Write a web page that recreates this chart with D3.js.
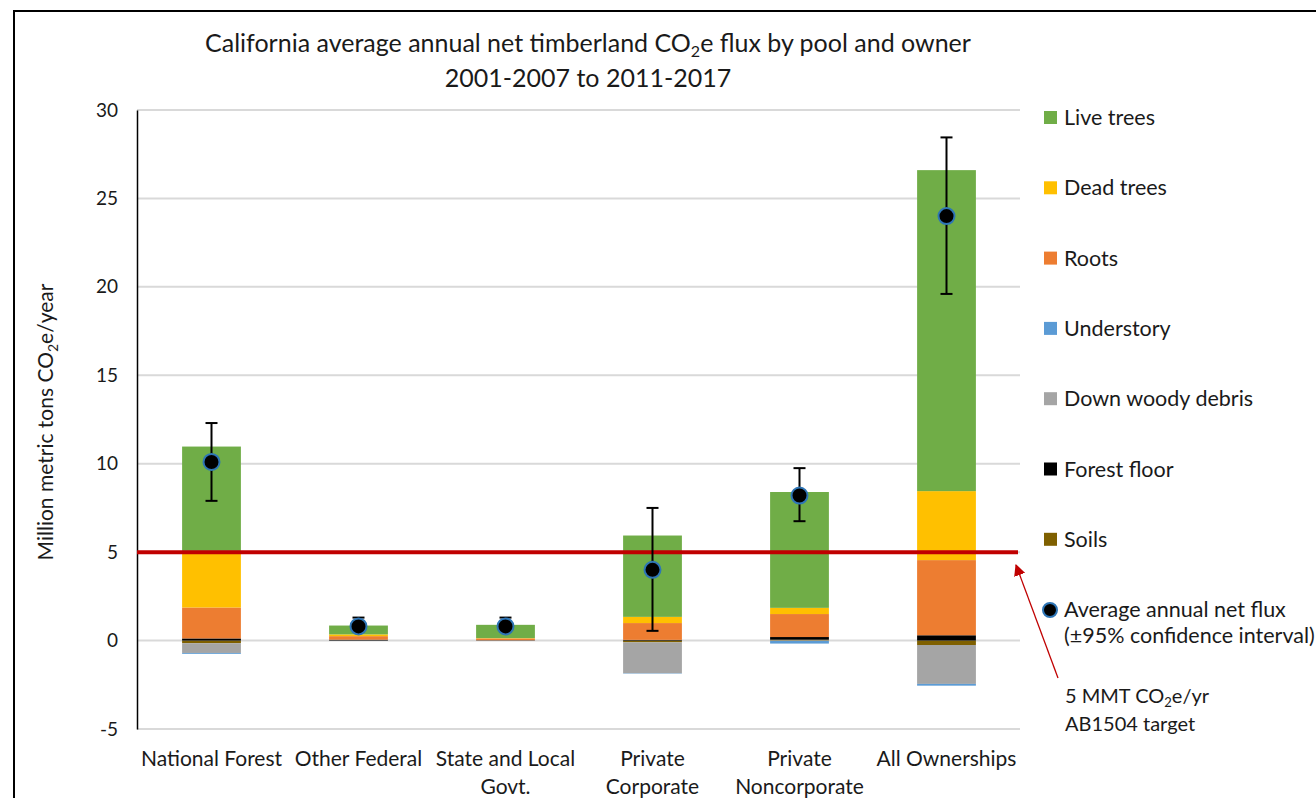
<!DOCTYPE html>
<html lang="en">
<head>
<meta charset="utf-8">
<title>California timberland CO2e flux</title>
<script src="https://cdn.jsdelivr.net/npm/d3@7/dist/d3.min.js"></script>
<style>
  body { margin: 0; background: #fff; }
  text { font-family: Lato, "Open Sans", sans-serif; fill: #1a1a1a; }
</style>
</head>
<body>
<svg width="1316" height="798"></svg>
<script>
// categories (owners)
var owners = ["National Forest", "Other Federal", "State and Local Govt.", "Private Corporate", "Private Noncorporate", "All Ownerships"];
var ownerLabels = [["National Forest"], ["Other Federal"], ["State and Local", "Govt."], ["Private", "Corporate"], ["Private", "Noncorporate"], ["All Ownerships"]];

// pool values, million metric tons CO2e/yr (stack order: first drawn nearest zero)
var soils       = [-0.15, 0,    0,    -0.10, 0.05,  -0.25];
var forestFloor = [0.12,  0.05, 0.02, 0.04,  0.15,  0.30];
var downWoody   = [-0.55, 0,    0,    -1.75, -0.02, -2.20];
var understory  = [-0.05, 0,    0,    -0.02, -0.15, -0.10];
var roots       = [1.75,  0.20, 0.10, 0.95,  1.30,  4.25];
var deadTrees   = [3.20,  0.10, 0.02, 0.35,  0.35,  3.90];
var liveTrees   = [5.90,  0.50, 0.75, 4.60,  6.55,  18.15];

// net flux and 95% CI
var netFlux = [10.1, 0.8, 0.8, 4.0, 8.2, 24.0];
var ciLow   = [7.9, 0.5, 0.5, 0.55, 6.75, 19.6];
var ciHigh  = [12.3, 1.3, 1.3, 7.5, 9.75, 28.45];

var target = 5;
var yTicks = [-5, 0, 5, 10, 15, 20, 25, 30];

var pools = [
  { key: "Soils", values: soils, color: "#7f6000" },
  { key: "Forest floor", values: forestFloor, color: "#000000" },
  { key: "Down woody debris", values: downWoody, color: "#a5a5a5" },
  { key: "Understory", values: understory, color: "#5b9bd5" },
  { key: "Roots", values: roots, color: "#ed7d31" },
  { key: "Dead trees", values: deadTrees, color: "#ffc000" },
  { key: "Live trees", values: liveTrees, color: "#70ad47" }
];

var table = owners.map(function(o, i) {
  var row = { owner: o };
  pools.forEach(function(p) { row[p.key] = p.values[i]; });
  return row;
});

var svg = d3.select("svg");

// chart frame (cropped)
svg.append("path").attr("d", "M14,798 V11 H1316").attr("fill", "none").attr("stroke", "#000").attr("stroke-width", 2);

var x = d3.scaleBand().domain(owners).range([138, 1020]).paddingInner(0.6).paddingOuter(0.3);
var y = d3.scaleLinear().domain([-5, 30]).range([729, 110]);

// title
var title = svg.append("text").attr("x", 588).attr("y", 52).attr("text-anchor", "middle").attr("font-size", "25px");
title.append("tspan").text("California average annual net timberland CO");
title.append("tspan").attr("font-size", "16px").attr("dy", 5).text("2");
title.append("tspan").attr("dy", -5).text("e flux by pool and owner");
svg.append("text").attr("x", 588).attr("y", 87).attr("text-anchor", "middle").attr("font-size", "25px").text("2001-2007 to 2011-2017");

// gridlines
svg.append("g").selectAll("line").data(yTicks).enter().append("line")
  .attr("x1", 137).attr("x2", 1020)
  .attr("y1", function(d) { return y(d); }).attr("y2", function(d) { return y(d); })
  .attr("stroke", "#d9d9d9").attr("stroke-width", 2);

// y axis
var yAxis = svg.append("g").attr("transform", "translate(137,0)")
  .call(d3.axisLeft(y).tickValues(yTicks).tickSize(0).tickPadding(19).tickFormat(function(d) { return String(d); }));
yAxis.select(".domain").attr("stroke", "#000").attr("stroke-width", 1.5);
yAxis.selectAll("text").attr("font-size", "19px").attr("font-family", "Lato, sans-serif").attr("fill", "#1a1a1a");

var yTitle = svg.append("text").attr("transform", "translate(53,422) rotate(-90)").attr("text-anchor", "middle").attr("font-size", "21px");
yTitle.append("tspan").text("Million metric tons CO");
yTitle.append("tspan").attr("font-size", "14px").attr("dy", 5).text("2");
yTitle.append("tspan").attr("dy", -5).text("e/year");

// stacked bars
var series = d3.stack().keys(pools.map(function(p) { return p.key; })).offset(d3.stackOffsetDiverging)(table);
var colorOf = {};
pools.forEach(function(p) { colorOf[p.key] = p.color; });

svg.append("g").selectAll("g").data(series).enter().append("g")
  .attr("fill", function(s) { return colorOf[s.key]; })
  .selectAll("rect").data(function(s) { return s; }).enter().append("rect")
  .attr("x", function(d) { return x(d.data.owner); })
  .attr("width", x.bandwidth())
  .attr("y", function(d) { return y(Math.max(d[0], d[1])); })
  .attr("height", function(d) { return Math.abs(y(d[0]) - y(d[1])); });

// target line
svg.append("line").attr("x1", 137).attr("x2", 1018).attr("y1", y(target)).attr("y2", y(target))
  .attr("stroke", "#c00000").attr("stroke-width", 4);

// error bars and net flux dots
var idx = d3.range(owners.length);
var cx = function(i) { return x(owners[i]) + x.bandwidth() / 2; };
var eb = svg.append("g").attr("stroke", "#000").attr("stroke-width", 2);
eb.selectAll(".v").data(idx).enter().append("line")
  .attr("x1", cx).attr("x2", cx)
  .attr("y1", function(i) { return y(ciLow[i]); }).attr("y2", function(i) { return y(ciHigh[i]); });
eb.selectAll(".hi").data(idx).enter().append("line")
  .attr("x1", function(i) { return cx(i) - 6; }).attr("x2", function(i) { return cx(i) + 6; })
  .attr("y1", function(i) { return y(ciHigh[i]); }).attr("y2", function(i) { return y(ciHigh[i]); });
eb.selectAll(".lo").data(idx).enter().append("line")
  .attr("x1", function(i) { return cx(i) - 6; }).attr("x2", function(i) { return cx(i) + 6; })
  .attr("y1", function(i) { return y(ciLow[i]); }).attr("y2", function(i) { return y(ciLow[i]); });

svg.append("g").selectAll("circle").data(idx).enter().append("circle")
  .attr("cx", cx).attr("cy", function(i) { return y(netFlux[i]); })
  .attr("r", 8).attr("fill", "#000").attr("stroke", "#2e75b6").attr("stroke-width", 2);

// x labels
var xl = svg.append("g").selectAll("text").data(idx).enter().append("text")
  .attr("x", cx).attr("y", 766).attr("text-anchor", "middle").attr("font-size", "21px");
xl.selectAll("tspan").data(function(i) { return ownerLabels[i]; }).enter().append("tspan")
  .attr("x", function() { return d3.select(this.parentNode).attr("x"); })
  .attr("dy", function(d, j) { return j === 0 ? 0 : 28; })
  .text(function(d) { return d; });

// legend
var legendItems = pools.slice().reverse();
var lg = svg.append("g").selectAll("g").data(legendItems).enter().append("g")
  .attr("transform", function(d, i) { return "translate(1044," + (118 + i * 70.3) + ")"; });
lg.append("rect").attr("x", 0).attr("y", -7).attr("width", 13).attr("height", 13).attr("fill", function(d) { return d.color; });
lg.append("text").attr("x", 20).attr("y", 7).attr("font-size", "21.5px").text(function(d) { return d.key; });

svg.append("circle").attr("cx", 1050).attr("cy", 610).attr("r", 7).attr("fill", "#000").attr("stroke", "#2e75b6").attr("stroke-width", 2);
svg.append("text").attr("x", 1064).attr("y", 617).attr("font-size", "21.5px").text("Average annual net flux");
svg.append("text").attr("x", 1064).attr("y", 643).attr("font-size", "21.5px").text("(\u00b195% confidence interval)");

// annotation arrow
svg.append("defs").append("marker").attr("id", "arr").attr("viewBox", "0 0 10 10")
  .attr("refX", 9).attr("refY", 5).attr("markerWidth", 9).attr("markerHeight", 9).attr("orient", "auto")
  .append("path").attr("d", "M0,0 L10,5 L0,10 z").attr("fill", "#c00000");
svg.append("line").attr("x1", 1058).attr("y1", 678).attr("x2", 1016).attr("y2", 565)
  .attr("stroke", "#c00000").attr("stroke-width", 1.3).attr("marker-end", "url(#arr)");

var ann = svg.append("text").attr("x", 1065).attr("y", 703).attr("font-size", "20px");
ann.append("tspan").text("5 MMT CO");
ann.append("tspan").attr("font-size", "13px").attr("dy", 4).text("2");
ann.append("tspan").attr("dy", -4).text("e/yr");
svg.append("text").attr("x", 1065).attr("y", 731).attr("font-size", "20px").text("AB1504 target");
</script>
</body>
</html>
